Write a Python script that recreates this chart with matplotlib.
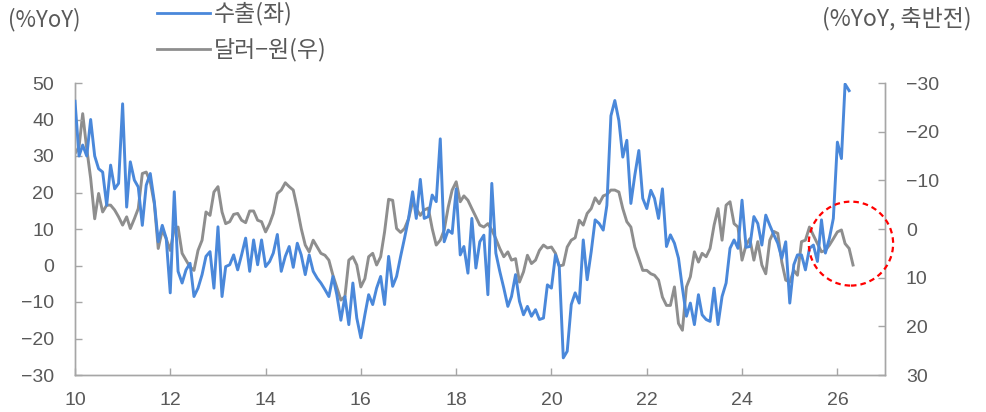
import matplotlib
matplotlib.use("Agg")
import matplotlib.pyplot as plt
import matplotlib.dates as mdates
from matplotlib.patches import Ellipse
from matplotlib.lines import Line2D
from matplotlib import font_manager
import pandas as pd
import numpy as np

names = {f.name for f in font_manager.fontManager.ttflist}
NUMFONT = "Liberation Sans Narrow" if "Liberation Sans Narrow" in names else "Liberation Sans"
plt.rcParams['font.family'] = [NUMFONT, 'Noto Sans CJK KR', 'DejaVu Sans']

# ---------------- data ----------------
export_yoy = [45, 30, 33, 30, 40, 30, 26.5, 25.6, 16.5, 27.5, 21, 22.5,
              44.3, 16, 28.4, 23.4, 21.5, 11, 22, 25.2, 17.5, 6.5, 11, 7.5,
              -7.5, 20.2, -1.6, -4.8, -1.2, 0.6, -8.5, -6.2, -2.5, 2.5, 3.8, -6.2,
              10.6, -8.5, -0.3, 0.2, 2.9, -1.2, 2.9, 7.5, -1.6, 7, 0.2, 7,
              -0.3, 1.1, 3.4, 8.5, -1.6, 2.5, 5.2, -0.5, 6.1, 2.9, -2.5, 2.9,
              -1.6, -3.5, -4.8, -6.6, -8.5, -3, -8, -15, -8.5, -16.2, -4.8, -14.4,
              -19.8, -13.5, -8, -10.7, -6.2, -3, -10.7, 2.5, -5.7, -3, 2.5, 7.5,
              12.9, 20.2, 12.9, 23.6, 12.9, 13.4, 19.3, 17.5, 34.7, 6.5, 9.7, 8.8,
              21, 2.9, 5.2, -2.1, 12.9, -0.7, 6.5, 8.3, -8, 22.5, 3.4, -1.6,
              -6.2, -11.2, -8.5, -2.5, -9.8, -13.5, -11.2, -13.9, -12.1, -14.8, -14.4, -5.3,
              -6.2, 2.9, -0.3, -25.3, -23.5, -10.7, -7.5, -10.3, 7, -3.9, 3.8, 12.5,
              11.5, 9.7, 16.5, 41, 45.2, 39.7, 29.7, 34.3, 17, 24.7, 31.5, 18.4,
              15.6, 20.6, 18.4, 12.9, 21, 5.2, 8.4, 6.1, 2, -6.2, -13.9, -10.3,
              -16.2, -8, -13.5, -14.8, -15.3, -6.2, -16.2, -8.5, -4.8, 4.7, 7, 4.7,
              17.9, 5, 5.2, 13.4, 11.5, 5.6, 13.8, 11, 8.4, 6.1, 2, 6.5,
              -10.3, 0.2, 2.9, 2.9, -1.2, 4.7, 5.6, 1.1, 12.5, 3.4, 7.5, 12.9,
              33.8, 29.3, 49.7, 47.9]

usdkrw_yoy = [-15.5, -16.9, -23.7, -16.5, -10.4, -2.1, -7.3, -3.5, -4.9, -4.9, -3.9, -2.5,
              -0.8, -2.5, -0.1, -2.1, -4.2, -11.4, -11.7, -9.7, -5.2, 4.0, 0.2, 2.0,
              4.4, -0.1, -0.4, 5.0, 6.4, 7.8, 8.5, 4.4, 2.3, -3.5, -2.8, -7.6,
              -8.7, -3.5, -1.1, -1.5, -3, -3.2, -1.8, -1.3, -3.7, -3.7, -1.8, -1.5,
              0.6, -1.1, -3.2, -7.3, -8, -9.5, -8.7, -8, -4.2, -0.1, 3.3, 4.7,
              2.3, 3.7, 5, 5.4, 6.4, 9.5, 12, 14.6, 13.9, 6.4, 5.7, 7.4,
              11.9, 10.2, 5.7, 5, 7.4, 5.7, 0.6, -6.1, -5.9, -0.1, 0.7, -0.1,
              -2.1, -5.6, -4.2, -2.8, -3.9, -4.3, -0.1, 3.3, 2.3, 0.2, -4.5, -8,
              -9.7, -5.6, -6.8, -5.9, -4.2, -2.5, -0.8, -0.4, -1.1, 0.2, 2, 4,
              5.7, 4.7, 6.4, 6.1, 10.9, 8.8, 5.4, 7.1, 6.4, 4.4, 3.3, 3.9,
              3.7, 5, 7.6, 7.4, 3.7, 2.3, 1.8, -1.8, -0.8, -3.2, -4.2, -6.4,
              -5.2, -6.8, -7.1, -8, -8, -7.6, -4.2, -1.5, -0.4, 3.7, 6.1, 8.5,
              8.5, 9.2, 9.5, 10.5, 14, 15.7, 15.7, 11.9, 19.4, 20.8, 11.9, 9.8,
              4.7, 6.8, 5, 5.7, 4, -0.8, -4.2, 2.3, -4.9, -5.6, -1.1, -0.4,
              6.4, 3.3, 2, 6.4, 2.6, 7.4, 9.2, 2.3, 0.5, 0.9, 6.8, 10.5,
              10.9, 8.5, 9.5, 2.6, 2.3, -0.4, 1.3, 3, 4.7, 4.4, 3.3, 2,
              0.6, 0.2, 3, 4, 7.4]

start_month = "2010-01-01"
export_label = "수출(좌)"
fx_label = "달러−원(우)"
left_unit = "(%YoY)"
right_unit = "(%YoY, 축반전)"
x_tick_years = list(range(2010, 2027, 2))
left_ticks = list(range(-30, 51, 10))
right_ticks = list(range(-30, 31, 10))

export_dates = pd.date_range(start_month, periods=len(export_yoy), freq="MS")
fx_dates = pd.date_range(start_month, periods=len(usdkrw_yoy), freq="MS")

# ---------------- style ----------------
BLUE = "#4A88DA"
GRAY = "#8E8E8E"
TXT = "#595959"
SPINE = "#A6A6A6"
NUMSIZE = 16 if NUMFONT == "Liberation Sans Narrow" else 14

W, H = 986, 412
fig = plt.figure(figsize=(W / 100, H / 100), dpi=100)
L, R, B, T = 75, 885, 375, 83
ax = fig.add_axes([L / W, 1 - B / H, (R - L) / W, (B - T) / H])
ax2 = ax.twinx()

ax2.plot(fx_dates, usdkrw_yoy, color=GRAY, lw=2.1, solid_joinstyle="round", zorder=2)
ax.plot(export_dates, export_yoy, color=BLUE, lw=2.1, solid_joinstyle="round", zorder=3)
ax.set_zorder(ax2.get_zorder() + 1)
ax.patch.set_visible(False)

ax.set_xlim(pd.Timestamp("2010-01-01"), pd.Timestamp("2027-01-01"))
ax.set_ylim(-30, 50)
ax2.set_ylim(30, -30)
ax.set_yticks(left_ticks)
ax2.set_yticks(right_ticks)
ax.set_xticks([pd.Timestamp(f"{y}-01-01") for y in x_tick_years])
ax.xaxis.set_major_formatter(mdates.DateFormatter("%y"))

for a in (ax, ax2):
    for s in a.spines.values():
        s.set_color(SPINE)
        s.set_linewidth(1.0)
    a.spines["top"].set_visible(False)
    a.tick_params(direction="in", length=5, width=1.0, color=SPINE,
                  labelsize=NUMSIZE, labelcolor=TXT)
ax.tick_params(axis="y", pad=15)
ax2.tick_params(axis="y", pad=15)
ax.tick_params(axis="x", pad=12)

# red dashed circle highlighting recent period
circle_center = (pd.Timestamp("2026-04-15"), 6.0)
cx = mdates.date2num(circle_center[0])
ell = Ellipse((cx, circle_center[1]), width=1.77 * 365.25, height=23.0,
              fill=False, edgecolor="#FF0000", lw=1.6, ls=(0, (2.5, 1.8)),
              zorder=5, clip_on=False)
ax.add_patch(ell)

# unit labels
fig.text(8 / W, 1 - 20 / H, left_unit, fontsize=16, color=TXT,
         ha="left", va="center", family=["Noto Sans CJK KR", "DejaVu Sans"])
fig.text(972 / W, 1 - 19 / H, right_unit, fontsize=16.5, color=TXT,
         ha="right", va="center", family=["Noto Sans CJK KR", "DejaVu Sans"])

# legend (manual)
for yy, col, lab in [(13, BLUE, export_label), (49, GRAY, fx_label)]:
    fig.add_artist(Line2D([157 / W, 210 / W], [1 - yy / H, 1 - yy / H],
                          transform=fig.transFigure, color=col, lw=2.0))
    fig.text(214 / W, 1 - (yy + 1) / H, lab, fontsize=16.5, color=TXT, ha="left",
             va="center", family=["Noto Sans CJK KR", "DejaVu Sans"])

fig.savefig("out.png", dpi=100)
